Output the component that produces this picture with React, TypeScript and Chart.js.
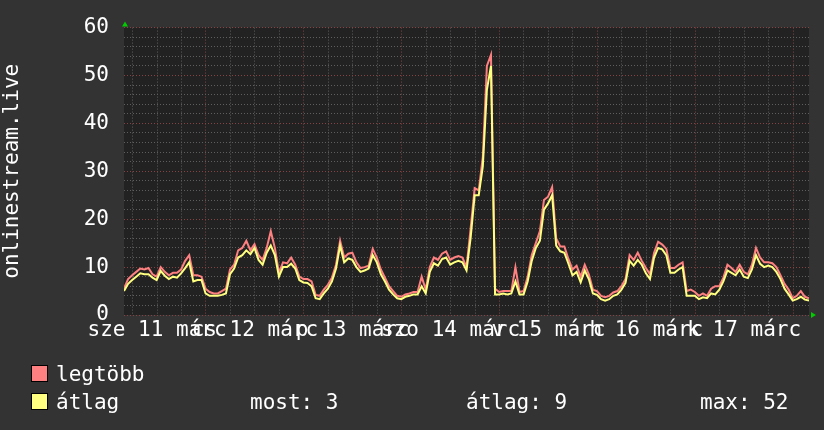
import React, { useEffect, useRef } from 'react';
import { Chart, registerables } from 'chart.js';

Chart.register(...registerables);

// hours since 11 márc 00:00
const START_HOUR = 3.9;
const END_HOUR = 171.9;

const dayLabels = ['sze 11 márc', 'cs 12 márc', 'p 13 márc', 'szo 14 márc', 'v 15 márc', 'h 16 márc', 'k 17 márc'];
const yAxisTitle = 'onlinestream.live';

const legendNames = ['legtöbb', 'átlag'];
const legendStats = ['most: 3', 'átlag: 9', 'max: 52'];

// hourly samples, starting at START_HOUR
const maxValues = [
  5.5, 7.5, 8.3, 9.0, 9.7, 9.5, 9.8, 8.5, 8.0, 10.0,
  9.0, 8.3, 8.8, 8.8, 9.5, 11.3, 12.5, 8.3, 8.3, 8.0,
  5.5, 4.8, 4.5, 4.5, 5.0, 5.5, 9.5, 10.5, 13.5, 14.0,
  15.5, 13.5, 14.8, 12.5, 11.5, 14.0, 17.5, 14.0, 8.8, 11.0,
  10.8, 12.0, 10.5, 8.0, 7.5, 7.5, 7.0, 4.2, 4.0, 5.3,
  6.3, 7.8, 10.5, 15.5, 12.0, 12.8, 13.0, 11.0, 9.8, 10.0,
  10.3, 13.8, 12.0, 9.5, 7.8, 6.0, 5.0, 4.0, 3.8, 4.3,
  4.5, 4.8, 4.8, 8.0, 5.3, 10.0, 12.0, 11.5, 12.8, 13.3,
  11.5, 12.0, 12.3, 12.0, 10.0, 18.0, 26.5, 26.0, 33.0, 52.0,
  54.3, 5.5, 4.8, 5.0, 5.0, 5.0, 10.0, 4.8, 5.0, 8.0,
  12.5, 15.0, 17.5, 24.0, 24.7, 26.7, 16.0, 14.3, 14.3, 11.7,
  9.5, 10.3, 8.0, 10.5, 8.5, 5.3, 5.0, 4.0, 3.7, 4.0,
  4.7, 5.0, 6.0, 7.5, 12.5, 11.5, 13.0, 11.3, 9.8, 8.5,
  13.0, 15.3, 14.7, 13.8, 9.8, 9.8, 10.5, 11.0, 5.0, 5.3,
  4.8, 4.0, 4.5, 4.0, 5.5, 6.0, 6.0, 7.8, 10.5, 9.8,
  9.0, 10.5, 9.0, 8.5, 10.5, 14.0, 12.0, 11.0, 11.0, 10.8,
  10.0, 8.3, 6.5, 5.3, 3.5, 4.0, 5.0, 3.8, 3.5,
];

const avgValues = [
  5.0, 6.5, 7.3, 8.0, 8.7, 8.5, 8.5, 7.8, 7.3, 9.2,
  8.2, 7.5, 8.0, 7.8, 8.7, 9.8, 11.0, 7.0, 7.3, 7.3,
  4.5, 4.0, 4.0, 4.0, 4.2, 4.5, 8.5, 9.7, 12.0, 12.5,
  13.5, 12.7, 14.0, 11.5, 10.5, 13.0, 14.5, 12.5, 8.0, 10.0,
  10.0, 10.7, 9.7, 7.3, 6.8, 6.7, 6.0, 3.5, 3.3, 4.5,
  5.5, 7.0, 9.7, 14.5, 11.0, 11.8, 11.5, 10.0, 9.0, 9.3,
  9.7, 12.5, 11.0, 8.5, 7.0, 5.3, 4.3, 3.5, 3.3, 3.8,
  4.0, 4.3, 4.3, 6.0, 4.5, 9.0, 10.8, 10.3, 11.7, 12.0,
  10.5, 11.0, 11.3, 11.0, 9.3, 16.0, 25.0, 25.0, 31.0, 47.0,
  52.0, 4.3, 4.3, 4.5, 4.3, 4.5, 7.0, 4.3, 4.3, 7.0,
  11.3, 14.0, 15.5, 22.0, 23.3, 25.0, 14.5, 13.3, 13.0, 10.7,
  8.3, 9.0, 6.8, 9.3, 7.5, 4.5, 4.2, 3.3, 3.0, 3.3,
  4.0, 4.3, 5.3, 6.7, 11.3, 10.3, 11.5, 10.5, 8.7, 7.5,
  12.0, 14.0, 13.7, 12.5, 8.8, 8.8, 9.5, 10.0, 4.0, 4.0,
  4.0, 3.3, 3.7, 3.5, 4.5, 4.3, 5.3, 7.0, 9.3, 8.8,
  8.3, 9.5, 8.0, 7.7, 9.5, 12.5, 10.7, 10.0, 10.3, 10.0,
  9.0, 7.5, 5.5, 4.3, 3.0, 3.3, 3.8, 3.2, 3.0,
];

const FONT = "'DejaVu Sans Mono', monospace";
const OUTER_BG = '#333333';
const PLOT_BG = '#222222';
const MINOR_GRID = '#5e5e5e';
const MAJOR_GRID = '#834444';
const MAX_COLOR = '#ff8080';
const AVG_COLOR = '#ffff80';
const ARROW = '#00cc00';

const decorPlugin = {
  id: 'rrdDecor',
  beforeDraw(chart: any) {
    const { ctx, chartArea: a, width, height } = chart;
    ctx.save();
    ctx.fillStyle = OUTER_BG;
    ctx.fillRect(0, 0, width, height);
    ctx.fillStyle = PLOT_BG;
    ctx.fillRect(a.left, a.top, a.right - a.left, a.bottom - a.top);
    ctx.restore();
  },
  afterDraw(chart: any) {
    const { ctx, chartArea: a } = chart;
    ctx.save();
    // arrows
    ctx.fillStyle = ARROW;
    ctx.beginPath();
    ctx.moveTo(a.left + 1, a.top - 6);
    ctx.lineTo(a.left - 2, a.top - 1);
    ctx.lineTo(a.left + 4, a.top - 1);
    ctx.closePath();
    ctx.fill();
    ctx.beginPath();
    ctx.moveTo(a.right + 7, a.bottom);
    ctx.lineTo(a.right + 2, a.bottom - 3);
    ctx.lineTo(a.right + 2, a.bottom + 3);
    ctx.closePath();
    ctx.fill();

    // legend
    ctx.font = `21px ${FONT}`;
    ctx.textBaseline = 'alphabetic';
    const colors = [MAX_COLOR, AVG_COLOR];
    const rowsY = [381, 409];
    for (let i = 0; i < 2; i++) {
      const top = rowsY[i] - 15;
      ctx.fillStyle = colors[i];
      ctx.fillRect(32, top, 15, 15);
      ctx.strokeStyle = '#000000';
      ctx.lineWidth = 1;
      ctx.strokeRect(31.5, top - 0.5, 16, 16);
      ctx.fillStyle = '#ffffff';
      ctx.fillText(legendNames[i], 56, rowsY[i]);
    }
    const statX = [250, 466, 700];
    for (let i = 0; i < legendStats.length; i++) {
      ctx.fillText(legendStats[i], statX[i], rowsY[1]);
    }
    ctx.restore();
  },
};

export default function App() {
  const ref = useRef<HTMLCanvasElement>(null);
  useEffect(() => {
    document.body.style.margin = '0';
    document.body.style.background = OUTER_BG;
    const canvas = ref.current;
    if (!canvas) return;
    const hours = avgValues.map((_, i) => START_HOUR + i);
    const chart = new Chart(canvas, {
      type: 'line',
      data: {
        datasets: [
          {
            label: legendNames[1],
            data: hours.map((h, i) => ({ x: h, y: avgValues[i] })),
            borderColor: AVG_COLOR,
            borderWidth: 2,
            pointRadius: 0,
            tension: 0,
            fill: false,
          },
          {
            label: legendNames[0],
            data: hours.map((h, i) => ({ x: h, y: maxValues[i] })),
            borderColor: MAX_COLOR,
            borderWidth: 2,
            pointRadius: 0,
            tension: 0,
            fill: false,
          },
        ],
      },
      options: {
        responsive: false,
        animation: false,
        devicePixelRatio: 1,
        layout: { padding: { top: 15, right: 15, bottom: 0, left: 0 } },
        plugins: { legend: { display: false }, tooltip: { enabled: false } },
        scales: {
          x: {
            type: 'linear',
            min: START_HOUR,
            max: END_HOUR,
            afterBuildTicks: (scale: any) => {
              const t: any[] = [];
              for (let h = 6; h < END_HOUR; h += 6) t.push({ value: h });
              scale.ticks = t;
            },
            afterFit: (scale: any) => {
              scale.height = 115;
            },
            ticks: {
              autoSkip: false,
              maxRotation: 0,
              minRotation: 0,
              padding: 3,
              color: '#ffffff',
              font: { family: FONT, size: 21 },
              callback: (v: any) => (v % 24 === 12 ? dayLabels[(v - 12) / 24] : ''),
            },
            grid: {
              drawTicks: false,
              lineWidth: 1,
              color: (c: any) => (c.tick && c.tick.value % 24 === 0 ? MAJOR_GRID : MINOR_GRID),
            },
            border: { display: false, dash: [1, 2] },
          },
          y: {
            type: 'linear',
            min: 0,
            max: 60,
            afterFit: (scale: any) => {
              scale.width = 124;
            },
            ticks: {
              stepSize: 2,
              autoSkip: false,
              padding: 15,
              color: '#ffffff',
              font: { family: FONT, size: 21 },
              callback: (v: any) => (v % 10 === 0 ? String(v) : ''),
            },
            grid: {
              drawTicks: false,
              lineWidth: 1,
              color: (c: any) => (c.tick && c.tick.value % 10 === 0 ? MAJOR_GRID : MINOR_GRID),
            },
            border: { display: false, dash: [1, 2] },
            title: {
              display: true,
              text: yAxisTitle,
              color: '#ffffff',
              font: { family: FONT, size: 21 },
              padding: { top: 0, bottom: 0 },
            },
          },
        },
      },
      plugins: [decorPlugin],
    } as any);
    return () => chart.destroy();
  }, []);
  return (
    <div style={{ width: 824, height: 430 }}>
      <canvas ref={ref} width={824} height={430} style={{ display: 'block' }} />
    </div>
  );
}
